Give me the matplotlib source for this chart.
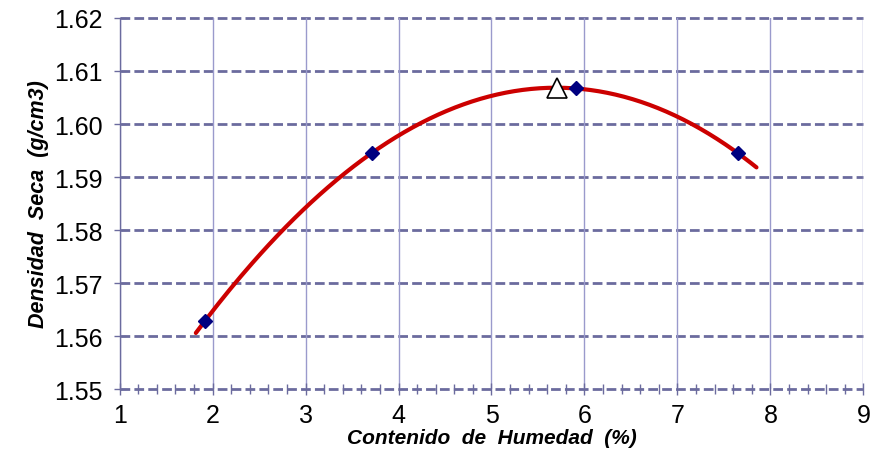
import numpy as np
import matplotlib
matplotlib.use("Agg")
import matplotlib.pyplot as plt
from matplotlib.ticker import MultipleLocator

plt.rcParams['font.family'] = ['Liberation Sans', 'DejaVu Sans']

# data
humedad = [1.92, 3.71, 5.91, 7.65]
densidad = [1.5629, 1.5945, 1.6067, 1.5945]
opt_humedad = [5.70]
opt_densidad = [1.6068]
curve_range = [1.82, 7.85]
x_ticks = [1, 2, 3, 4, 5, 6, 7, 8, 9]
y_ticks = [1.55, 1.56, 1.57, 1.58, 1.59, 1.60, 1.61, 1.62]

fig = plt.figure(figsize=(8.73, 4.52), dpi=100)
ax = fig.add_axes([0.137, 0.137, 0.852, 0.821])

grid_h = '#6B6B9E'
grid_v = '#9A9ACC'

# polynomial trend line through the measured points
coef = np.polyfit(humedad, densidad, 3)
xc = np.linspace(curve_range[0], curve_range[1], 200)
ax.plot(xc, np.polyval(coef, xc), color='#CC0000', lw=3, zorder=3, solid_capstyle='round')

ax.plot(humedad, densidad, linestyle='none', marker='D', color='#000080', markersize=7, zorder=4)
ax.plot(opt_humedad, opt_densidad, linestyle='none', marker='^', markerfacecolor='white',
        markeredgecolor='black', markersize=14, markeredgewidth=1.2, zorder=5)

ax.set_xlim(x_ticks[0], x_ticks[-1])
ax.set_ylim(y_ticks[0], y_ticks[-1])
ax.set_xticks(x_ticks)
ax.set_yticks(y_ticks)
ax.set_yticklabels([f'{v:.2f}' for v in y_ticks])
ax.xaxis.set_minor_locator(MultipleLocator(0.2))

for y in y_ticks:
    ax.axhline(y, color=grid_h, lw=2, ls=(0, (3.5, 1.5)), zorder=1, clip_on=False)
for x in x_ticks:
    ax.axvline(x, color=grid_v, lw=1, zorder=1)

for s in ['top', 'right', 'bottom']:
    ax.spines[s].set_visible(False)
ax.spines['left'].set_color(grid_h)
ax.spines['left'].set_linewidth(1)

ax.tick_params(axis='both', which='major', direction='inout', length=8, color=grid_h,
               labelsize=18, width=1)
ax.tick_params(axis='x', which='minor', direction='inout', length=7, color=grid_h, width=1)
ax.tick_params(axis='x', pad=6)
ax.tick_params(axis='y', pad=8)

ax.set_xlabel('Contenido  de  Humedad  (%)', fontsize=15, fontweight='bold', fontstyle='italic', labelpad=1)
ax.set_ylabel('Densidad  Seca  (g/cm3)', fontsize=15.5, fontweight='bold', fontstyle='italic', labelpad=4)

fig.savefig('out.png', dpi=100)
